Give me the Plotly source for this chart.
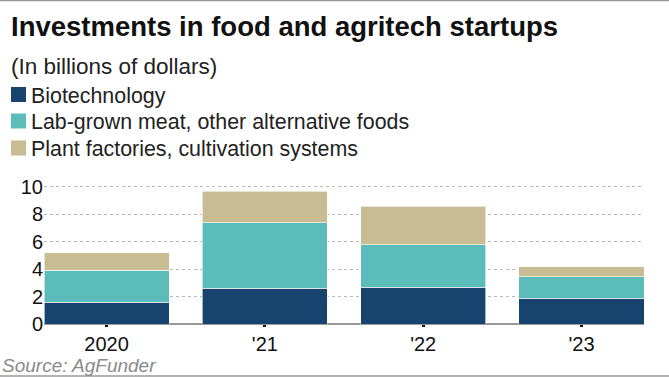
import plotly.graph_objects as go

years = ["2020", "'21", "'22", "'23"]
biotech = [1.57, 2.59, 2.69, 1.86]
lab_grown = [2.33, 4.79, 3.07, 1.60]
plant_factories = [1.28, 2.28, 2.81, 0.70]
series_names = ["Biotechnology", "Lab-grown meat, other alternative foods", "Plant factories, cultivation systems"]
colors = ["#17446f", "#5bbcba", "#c8bd92"]
y_ticks = [0, 2, 4, 6, 8, 10]

W, H = 669, 377
ml, mr, mt, mb = 44, 25, 184, 53
ph = H - mt - mb

def py(px):
    return (H - mb - px) / ph

def pxx(px):
    return (px - ml) / (W - ml - mr)

fig = go.Figure()
for name, vals, c in zip(series_names, [biotech, lab_grown, plant_factories], colors):
    fig.add_trace(go.Bar(x=years, y=vals, name=name, marker=dict(color=c, line=dict(color="white", width=0.6)),
                         showlegend=False))

font = "Liberation Sans, Arial, sans-serif"
ann = []
ann.append(dict(text="<b>Investments in food and agritech startups</b>", x=pxx(9), y=py(26), xref="paper", yref="paper",
                xanchor="left", yanchor="middle", showarrow=False, font=dict(size=27.5, color="#111", family=font)))
ann.append(dict(text="(In billions of dollars)", x=pxx(9), y=py(66), xref="paper", yref="paper",
                xanchor="left", yanchor="middle", showarrow=False, font=dict(size=22.5, color="#222", family=font)))
centers = [94.5, 121, 148]
shapes = []
for name, c, cy in zip(series_names, colors, centers):
    ann.append(dict(text=name, x=pxx(29), y=py(cy + 1), xref="paper", yref="paper",
                    xanchor="left", yanchor="middle", showarrow=False, font=dict(size=21.4, color="#222", family=font)))
    shapes.append(dict(type="rect", xref="paper", yref="paper", x0=pxx(11), x1=pxx(26), y0=py(cy + 7.5), y1=py(cy - 7.5),
                       fillcolor=c, line=dict(width=0)))
ann.append(dict(text="<i>Source: AgFunder</i>", x=pxx(0), y=py(365), xref="paper", yref="paper",
                xanchor="left", yanchor="middle", showarrow=False, font=dict(size=19, color="#8a8a8a", family=font)))
shapes.append(dict(type="line", xref="paper", yref="paper", x0=pxx(0), x1=pxx(W), y0=py(376), y1=py(376),
                   line=dict(color="#999", width=1.5)))
shapes.append(dict(type="line", xref="paper", yref="paper", x0=pxx(0), x1=pxx(W), y0=py(0.5), y1=py(0.5),
                   line=dict(color="#999", width=1.5)))

fig.update_layout(
    width=W, height=H, margin=dict(l=ml, r=mr, t=mt, b=mb),
    barmode="stack", bargap=0.21,
    plot_bgcolor="white", paper_bgcolor="white",
    annotations=ann, shapes=shapes,
    font=dict(family=font, size=20, color="#111"),
    xaxis=dict(range=[-0.395, 3.395], showgrid=False, showline=False, ticks="outside", ticklen=2, tickwidth=3,
               tickcolor="#111", tickfont=dict(size=20, color="#111")),
    yaxis=dict(range=[0, 10.2], tickvals=y_ticks, showgrid=True, gridcolor="#b8b8b8", griddash="dot", gridwidth=1.2,
               zeroline=True, zerolinecolor="#999", zerolinewidth=2, tickfont=dict(size=20, color="#111"),
               ticks="", showline=False),
)
fig.write_html("out.html", config={"displayModeBar": False},
               post_script="document.body.style.margin='0';document.body.style.overflow='hidden';")
